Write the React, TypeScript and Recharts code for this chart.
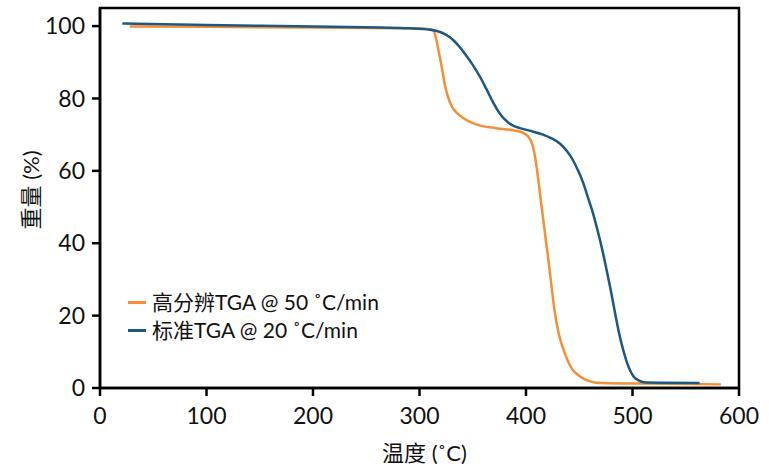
import React from 'react';
import { LineChart, Line, XAxis, YAxis, ReferenceArea } from 'recharts';

const xTicks = [0, 100, 200, 300, 400, 500, 600];
const yTicks = [0, 20, 40, 60, 80, 100];

const seriesNames = ['高分辨TGA @ 50 ˚C/min', '标准TGA @ 20 ˚C/min'];
const seriesColors = ['#F58F35', '#1D5783'];

// 高分辨TGA @ 50 °C/min : [temperature, weight %]
const hiResPoints: [number, number][] = [
  [28, 99.9], [100, 99.8], [200, 99.6], [280, 99.4], [305, 99.3], [311, 99.1],
  [313.5, 98.6], [316, 96], [318, 93], [321, 88.5], [324, 83.5], [327, 80.2],
  [330, 78], [335, 76], [341, 74.6], [349, 73.3], [357, 72.5], [372, 71.8],
  [388, 71.2], [395, 70.8], [399, 70.2], [402, 69.5], [405, 68], [407.5, 65.5],
  [410, 61], [413, 54], [416, 47], [419, 40], [422, 33], [425, 25.5], [427, 21],
  [430, 16], [433, 12.5], [436, 10], [440, 7], [444, 5], [448, 3.8], [455, 2.4],
  [462, 1.7], [470, 1.35], [490, 1.25], [530, 1.2], [583, 1.0],
];

// 标准TGA @ 20 °C/min
const stdPoints: [number, number][] = [
  [21, 100.7], [100, 100.3], [200, 99.9], [263, 99.6], [290, 99.4], [310, 99.0],
  [320, 98.3], [328.6, 96.9], [336, 94.8], [344, 91.8], [350, 89.3], [356.8, 86.0],
  [363, 82.5], [369, 79.0], [375, 76.0], [381.9, 73.7], [388, 72.5], [394.4, 71.8],
  [405, 71], [416, 70], [424, 69.0], [432, 67.5], [438, 65.6], [444, 63],
  [449, 60], [453.8, 56.6], [458, 52.8], [463, 48.2], [467, 43.8], [471, 39.0],
  [475, 33.6], [479, 27.9], [483, 21.7], [487, 15.7], [491, 10.8], [494.5, 7.3],
  [498, 4.7], [501, 3.2], [504, 2.4], [508, 1.8], [513, 1.5], [530, 1.45], [563, 1.4],
];

const hiRes = hiResPoints.map(([t, w]) => ({ t, w }));
const std = stdPoints.map(([t, w]) => ({ t, w }));

const FONT = "Lato, 'Noto Sans CJK SC', sans-serif";
const AX = { stroke: '#000', strokeWidth: 2.5 };

const LegendBox = () => (
  <div style={{ position: 'absolute', left: 128, top: 288, fontFamily: FONT, fontSize: 21, color: '#111', lineHeight: '28px' }}>
    {seriesNames.map((n, i) => (
      <div key={n} style={{ display: 'flex', alignItems: 'center' }}>
        <span style={{ display: 'inline-block', width: 18, height: 3, background: seriesColors[i], marginRight: 6 }} />
        <span>{n}</span>
      </div>
    ))}
  </div>
);

export default function App() {
  return (
    <div style={{ position: 'absolute', left: 0, top: 0, width: 769, height: 466, background: '#fff' }}>
      <LineChart width={769} height={466} margin={{ top: 8, right: 30, bottom: 0, left: 0 }}>
        <XAxis
          xAxisId="main"
          dataKey="t"
          type="number"
          domain={[0, 600]}
          ticks={xTicks}
          allowDataOverflow
          height={78}
          axisLine={AX}
          tickLine={AX}
          tickSize={8}
          tickMargin={12}
          tick={{ fill: '#111', fontSize: 23, fontFamily: FONT }}
          label={{
            content: (p: any) => {
              const vb = p.viewBox;
              return (
                <text x={vb.x + vb.width / 2 + 5} y={vb.y + 64} textAnchor="middle" dominantBaseline="central"
                  fontSize={22} fontFamily={FONT} fill="#111">温度 (˚C)</text>
              );
            },
          }}
        />
        <YAxis
          yAxisId="main"
          type="number"
          domain={[0, 105]}
          ticks={yTicks}
          allowDataOverflow
          width={100}
          axisLine={AX}
          tickLine={AX}
          tickSize={8}
          tickMargin={7}
          tick={{ fill: '#111', fontSize: 23, fontFamily: FONT }}
          label={{
            content: (p: any) => {
              const vb = p.viewBox;
              const cx = vb.x + 30;
              const cy = vb.y + vb.height / 2 - 8;
              return (
                <text x={cx} y={cy} textAnchor="middle" dominantBaseline="central" transform={`rotate(-90 ${cx} ${cy})`}
                  fontSize={22} fontFamily={FONT} fill="#111">重量 (%)</text>
              );
            },
          }}
        />
        <ReferenceArea xAxisId="main" yAxisId="main" x1={0} x2={600} y1={0} y2={105}
          fill="none" stroke="#000" strokeWidth={2.5} fillOpacity={0} ifOverflow="visible" />
        <Line xAxisId="main" yAxisId="main" data={hiRes} dataKey="w" name={seriesNames[0]} type="monotone"
          stroke={seriesColors[0]} strokeWidth={2.5} dot={false} isAnimationActive={false} />
        <Line xAxisId="main" yAxisId="main" data={std} dataKey="w" name={seriesNames[1]} type="monotone"
          stroke={seriesColors[1]} strokeWidth={2.5} dot={false} isAnimationActive={false} />
      </LineChart>
      <LegendBox />
    </div>
  );
}
